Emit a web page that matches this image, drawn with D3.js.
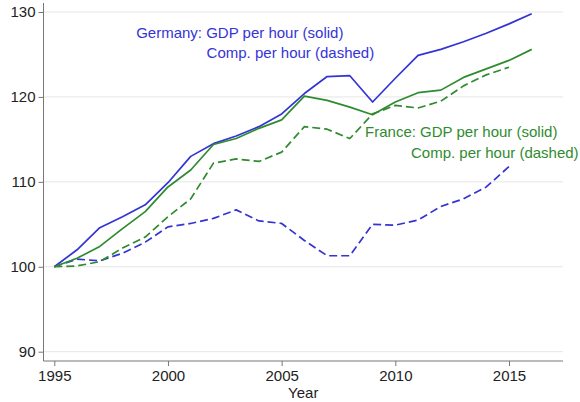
<!DOCTYPE html>
<html>
<head>
<meta charset="utf-8">
<script src="https://cdn.jsdelivr.net/npm/d3@7"></script>
<style>
  html, body { margin: 0; padding: 0; background: #fff; }
  svg { display: block; font-family: "Liberation Sans", Arial, sans-serif; }
</style>
</head>
<body>
<svg id="chart" width="580" height="402"></svg>
<script>
const years = [1995,1996,1997,1998,1999,2000,2001,2002,2003,2004,2005,2006,2007,2008,2009,2010,2011,2012,2013,2014,2015,2016];
const deGdp  = [100,102.0,104.6,105.9,107.3,109.9,113.0,114.5,115.4,116.5,118.0,120.4,122.4,122.5,119.4,122.2,124.9,125.6,126.5,127.5,128.6,129.8];
const deComp = [100,100.9,100.7,101.6,102.9,104.7,105.1,105.7,106.7,105.4,105.1,103.1,101.3,101.3,105.0,104.9,105.5,107.1,108.0,109.4,111.8];
const frGdp  = [100,101.0,102.4,104.5,106.5,109.4,111.4,114.4,115.1,116.3,117.3,120.1,119.6,118.8,117.9,119.4,120.5,120.8,122.3,123.3,124.3,125.6];
const frComp = [100,100.1,100.6,102.2,103.5,105.9,108.0,112.2,112.7,112.4,113.5,116.5,116.2,115.1,118.0,119.0,118.7,119.5,121.3,122.6,123.5];
const xTicks = [1995,2000,2005,2010,2015];
const yTicks = [90,100,110,120,130];
const labels = [
  {text:"Germany: GDP per hour (solid)", country:"de", year:1998.6, value:126.9},
  {text:"Comp. per hour (dashed)", country:"de", year:2001.7, value:124.6},
  {text:"France: GDP per hour (solid)", country:"fr", year:2008.67, value:115.3},
  {text:"Comp. per hour (dashed)", country:"fr", year:2010.69, value:112.8}
];

const blue = "#3434d6", green = "#2f8b2f";
const colors = {de: blue, fr: green};

const svg = d3.select("#chart");
const x = d3.scaleLinear().domain([1995, 2015]).range([54.3, 509]);
const y = d3.scaleLinear().domain([90, 130]).range([351.7, 12]);
const xLeft = 43.5, xRight = 563, yBottom = 361, yTop = 3;

// gridlines
svg.append("g").selectAll("line").data(yTicks).join("line")
  .attr("x1", xLeft).attr("x2", xRight)
  .attr("y1", d => y(d)).attr("y2", d => y(d))
  .attr("stroke", "#e6e6e6").attr("stroke-width", 1);

// axes
const yAxis = d3.axisLeft(y).tickValues(yTicks).tickSize(5).tickPadding(3).tickSizeOuter(0);
const gy = svg.append("g").attr("transform", `translate(${xLeft},0)`).call(yAxis);
gy.select(".domain").remove();
gy.append("line").attr("x1",0).attr("x2",0).attr("y1",yTop).attr("y2",yBottom).attr("stroke","#777");
gy.selectAll(".tick line").attr("stroke","#777");
gy.selectAll(".tick text").attr("font-size", 15).attr("fill", "#222").attr("font-family", "Liberation Sans, Arial, sans-serif");

const xAxis = d3.axisBottom(x).tickValues(xTicks).tickFormat(d3.format("d")).tickSize(5).tickPadding(4).tickSizeOuter(0);
const gx = svg.append("g").attr("transform", `translate(0,${yBottom})`).call(xAxis);
gx.select(".domain").remove();
gx.append("line").attr("x1",xLeft).attr("x2",xRight).attr("y1",0).attr("y2",0).attr("stroke","#777");
gx.selectAll(".tick line").attr("stroke","#777");
gx.selectAll(".tick text").attr("font-size", 15).attr("fill", "#222").attr("font-family", "Liberation Sans, Arial, sans-serif");

svg.append("text").attr("x", (xLeft + xRight) / 2).attr("y", 398)
  .attr("text-anchor", "middle").attr("font-size", 15).attr("fill", "#222").text("Year");

// series
const series = [
  {vals: deGdp, color: blue, dash: null},
  {vals: deComp, color: blue, dash: "8,4"},
  {vals: frGdp, color: green, dash: null},
  {vals: frComp, color: green, dash: "8,4"}
];
const line = d3.line().x(d => x(d[0])).y(d => y(d[1]));
series.forEach(s => {
  const pts = s.vals.map((v, i) => [years[i], v]);
  svg.append("path").datum(pts)
    .attr("d", line)
    .attr("fill", "none")
    .attr("stroke", s.color)
    .attr("stroke-width", 1.7)
    .attr("stroke-linejoin", "round")
    .attr("stroke-dasharray", s.dash);
});

// labels
svg.append("g").selectAll("text").data(labels).join("text")
  .attr("x", d => x(d.year)).attr("y", d => y(d.value))
  .attr("font-size", 15).attr("fill", d => colors[d.country])
  .text(d => d.text);
</script>
</body>
</html>
